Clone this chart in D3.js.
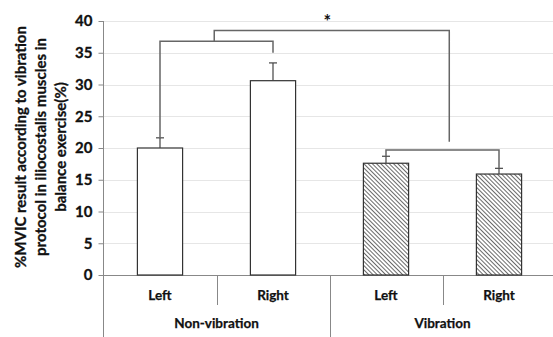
<!DOCTYPE html>
<html>
<head>
<meta charset="utf-8">
<script src="https://cdn.jsdelivr.net/npm/d3@7"></script>
<style>
  body { margin: 0; background: #fff; }
  svg { display: block; font-family: Lato, "Open Sans", sans-serif; font-weight: bold; }
</style>
</head>
<body>
<svg width="553" height="337"></svg>
<script>
// chart data
const categories = ["Left", "Right", "Left", "Right"];
const groups = ["Non-vibration", "Vibration"];
const means = [20.0, 30.6, 17.6, 15.9];
const errors = [1.6, 2.8, 1.1, 0.9];
const yTicks = [0, 5, 10, 15, 20, 25, 30, 35, 40];
const titleLines = [
  "%MVIC result according to vibration",
  "protocol in iliocostalis muscles in",
  "balance exercise(%)"
];
// brackets: [category position, value] points
const brackets = [
  [[0, 21.7], [0, 36.8], [1, 36.8], [1, 35.0]],
  [[2, 18.7], [2, 19.7], [3, 19.7], [3, 16.8]],
  [[0.48, 36.8], [0.48, 38.5], [2.56, 38.5], [2.56, 21.0]]
];
const star = { pos: 1.48, value: 38.9, label: "*" };

const svg = d3.select("svg");
const plotLeft = 103.5, plotRight = 555.5, plotTop = 21, plotBottom = 275;

const y = d3.scaleLinear().domain([0, 40]).range([plotBottom, plotTop]);
const x = d3.scaleLinear().domain([-0.5, 3.5]).range([plotLeft, plotRight]);
const step = x(1) - x(0);
const barW = step * 0.4;

// hatch pattern for vibration bars
const defs = svg.append("defs");
const pat = defs.append("pattern")
  .attr("id", "hatch")
  .attr("patternUnits", "userSpaceOnUse")
  .attr("width", 3).attr("height", 3)
  .attr("patternTransform", "rotate(-45)");
pat.append("rect").attr("width", 3).attr("height", 3).attr("fill", "#fff");
pat.append("line")
  .attr("x1", 0).attr("y1", 0).attr("x2", 0).attr("y2", 3)
  .attr("stroke", "#444").attr("stroke-width", 1.6);

// gridlines
svg.append("g")
  .selectAll("line")
  .data(yTicks.filter((d) => d > 0))
  .enter()
  .append("line")
  .attr("x1", plotLeft).attr("x2", 553)
  .attr("y1", (d) => Math.round(y(d)) + 0.5)
  .attr("y2", (d) => Math.round(y(d)) + 0.5)
  .attr("stroke", "#e6e6e6");

// y axis
const yAxis = svg.append("g")
  .attr("transform", `translate(${plotLeft},0)`)
  .call(d3.axisLeft(y).tickValues(yTicks).tickSize(5).tickPadding(6));
yAxis.select(".domain").remove();
yAxis.selectAll(".tick line").attr("stroke", "#888");
yAxis.selectAll("text")
  .attr("font-size", 15).attr("font-weight", "bold")
  .attr("fill", "#111").attr("stroke", "#111").attr("stroke-width", 0.3)
  .attr("font-family", "Lato, sans-serif");
svg.append("line")
  .attr("x1", plotLeft).attr("x2", plotLeft)
  .attr("y1", plotTop).attr("y2", 337)
  .attr("stroke", "#888");

// x axis line and separators
svg.append("line")
  .attr("x1", plotLeft).attr("x2", 553)
  .attr("y1", plotBottom + 0.5).attr("y2", plotBottom + 0.5)
  .attr("stroke", "#888");
svg.append("g")
  .selectAll("line")
  .data([0.5, 1.5, 2.5])
  .enter()
  .append("line")
  .attr("x1", (d) => Math.round(x(d)) + 0.5)
  .attr("x2", (d) => Math.round(x(d)) + 0.5)
  .attr("y1", plotBottom)
  .attr("y2", (d) => (d === 1.5 ? 337 : 305))
  .attr("stroke", "#888");

// category labels
svg.append("g")
  .attr("fill", "#111").attr("stroke", "#111").attr("stroke-width", 0.25)
  .selectAll("text")
  .data(categories)
  .enter()
  .append("text")
  .attr("x", (d, i) => x(i))
  .attr("y", 300)
  .attr("text-anchor", "middle")
  .attr("font-size", 13.5)
  .text((d) => d);
svg.append("g")
  .attr("fill", "#111").attr("stroke", "#111").attr("stroke-width", 0.25)
  .selectAll("text")
  .data(groups)
  .enter()
  .append("text")
  .attr("x", (d, i) => x(i * 2 + 0.5))
  .attr("y", 328)
  .attr("text-anchor", "middle")
  .attr("font-size", 13.5)
  .text((d) => d);

// bars
svg.append("g")
  .selectAll("rect")
  .data(means)
  .enter()
  .append("rect")
  .attr("x", (d, i) => x(i) - barW / 2)
  .attr("y", (d) => y(d))
  .attr("width", barW)
  .attr("height", (d) => y(0) - y(d))
  .attr("fill", (d, i) => (i < 2 ? "#fff" : "url(#hatch)"))
  .attr("stroke", "#333")
  .attr("stroke-width", 1.2);

// error bars
const err = svg.append("g").attr("stroke", "#444").attr("stroke-width", 1.2);
means.forEach((m, i) => {
  err.append("line")
    .attr("x1", x(i)).attr("x2", x(i))
    .attr("y1", y(m)).attr("y2", y(m + errors[i]));
  err.append("line")
    .attr("x1", x(i) - 4).attr("x2", x(i) + 4)
    .attr("y1", y(m + errors[i])).attr("y2", y(m + errors[i]));
});

// significance brackets
const line = d3.line().x((d) => x(d[0])).y((d) => y(d[1]));
svg.append("g")
  .selectAll("path")
  .data(brackets)
  .enter()
  .append("path")
  .attr("d", line)
  .attr("fill", "none")
  .attr("stroke", "#666")
  .attr("stroke-width", 1.5);

svg.append("text")
  .attr("x", x(star.pos))
  .attr("y", y(star.value))
  .attr("text-anchor", "middle")
  .attr("font-size", 18)
  .attr("fill", "#111")
  .text(star.label);

// y axis title
const title = svg.append("text")
  .attr("transform", "translate(40,147) rotate(-90)")
  .attr("text-anchor", "middle")
  .attr("font-size", 15)
  .attr("fill", "#111").attr("stroke", "#111").attr("stroke-width", 0.3);
title.selectAll("tspan")
  .data(titleLines)
  .enter()
  .append("tspan")
  .attr("x", 0)
  .attr("dy", (d, i) => (i === 0 ? -14 : 20))
  .text((d) => d);
</script>
</body>
</html>
